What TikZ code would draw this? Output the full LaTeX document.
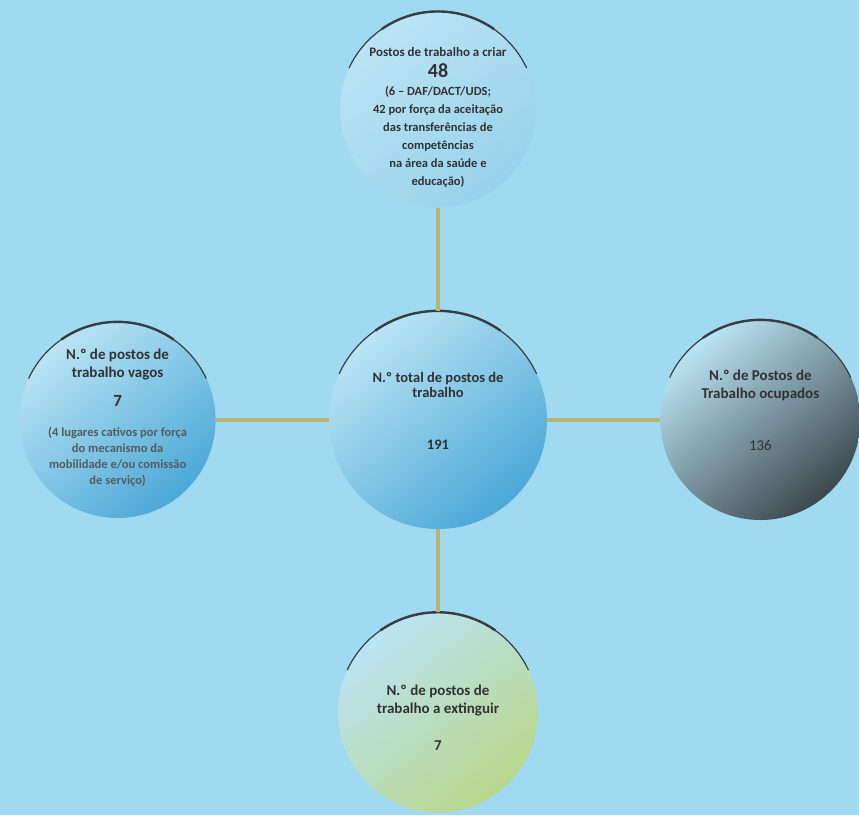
\documentclass[tikz,border=0pt]{standalone}
\usepackage{fontspec}
\setmainfont{Carlito}
\usetikzlibrary{positioning}
\definecolor{bgblue}{RGB}{160,218,240}
\definecolor{bubblelight}{RGB}{186,228,244}
\definecolor{bubbleblue}{RGB}{75,168,215}
\definecolor{bubblegrey}{RGB}{60,72,78}
\definecolor{bubblegreen}{RGB}{185,215,140}
\definecolor{rimgrey}{RGB}{55,62,66}
\definecolor{linkolive}{RGB}{185,180,115}
\definecolor{txtgrey}{RGB}{50,50,50}
\definecolor{txtpale}{RGB}{85,90,95}

\begin{document}
\begin{tikzpicture}[
            bubble/.style={circle, inner sep=0pt,
                top color=bubblelight, middle color=bubblelight, bottom color=#1, shading angle=40},
            bubtext/.style={align=center, text=txtgrey, font=\bfseries\fontsize{15}{18}\selectfont},
            rim/.style={draw=rimgrey, line width=1.2pt},
            rimtop/.style={draw=rimgrey, line width=2.4pt},
            link/.style={draw=linkolive, line width=3.5pt}
        ]
            \path[use as bounding box, fill=bgblue] (0,0) rectangle (859pt,-815pt);

            \node[bubble=bubbleblue, minimum size=218pt] (total) at (438pt,-420pt) {};
            \node[bubble=bubblelight!70!bubbleblue, minimum size=196pt, above=103pt of total] (criar) {};
            \node[bubble=bubbleblue, minimum size=196pt, left=113pt of total] (vagos) {};
            \node[bubble=bubblegrey, minimum size=200pt, right=113pt of total] (ocupados) {};
            \node[bubble=bubblegreen, minimum size=200pt, below=83pt of total] (extinguir) {};

            \foreach \n/\r in {total/109, criar/98, vagos/98, ocupados/100, extinguir/100} {
                \draw[rim] (\n.155) arc[start angle=155, end angle=25, radius=\r pt];
                \draw[rimtop] (\n.125) arc[start angle=125, end angle=55, radius=\r pt];
            }

            \node[bubtext, font=\bfseries\fontsize{14.5}{15}\selectfont] (totaltxt) at ([yshift=9pt]total.center)
                {N.º total de postos de\\trabalho\\[37pt]191};
            \node[bubtext, font=\bfseries\fontsize{12.5}{18}\selectfont] (criartxt) at ([yshift=-8pt]criar.center)
                {{\fontsize{13}{18}\selectfont Postos de trabalho a criar}\\[3pt]
                 {\fontsize{20}{18}\selectfont 48}\\
                 (6 -- DAF/DACT/UDS;\\42 por força da aceitação\\das transferências de\\competências\\na área da saúde e\\educação)};
            \node[bubtext] (vagostxt) at ([yshift=2pt]vagos.center)
                {N.º de postos de\\trabalho vagos\\[11pt]{\fontsize{17}{18}\selectfont 7}\\[12pt]
                 {\fontsize{12.5}{15.5}\selectfont\color{txtpale}(4 lugares cativos por força}\\[-2pt]
                 {\fontsize{12.5}{15.5}\selectfont\color{txtpale}do mecanismo da}\\[-2pt]
                 {\fontsize{12.5}{15.5}\selectfont\color{txtpale}mobilidade e/ou comissão}\\[-2pt]
                 {\fontsize{12.5}{15.5}\selectfont\color{txtpale}de serviço)}};
            \node[bubtext] (ocupadostxt) at ([yshift=10pt]ocupados.center)
                {N.º de Postos de\\Trabalho ocupados\\[34pt]{\mdseries 136}};
            \node[bubtext] (extinguirtxt) at ([yshift=-5pt]extinguir.center)
                {N.º de postos de\\trabalho a extinguir\\[19pt]7};

            \draw[link] (criar) -- (total);
            \draw[link] (vagos) -- (total);
            \draw[link] (total) -- (ocupados);
            \draw[link] (total) -- (extinguir);
        \end{tikzpicture}
\end{document}
